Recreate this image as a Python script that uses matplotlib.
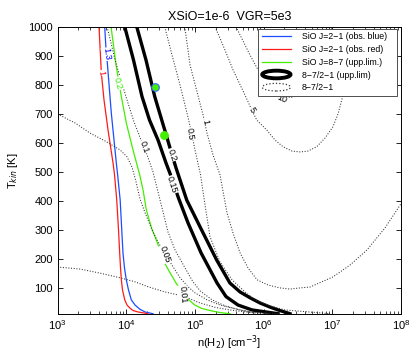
import numpy as np
import matplotlib
matplotlib.use("Agg")
from matplotlib import pyplot as plt
from matplotlib.patches import Ellipse
from matplotlib.legend_handler import HandlerPatch

plt.rcParams["font.family"] = ["Liberation Sans", "DejaVu Sans"]

# log10 n(H2) and Tkin of each curve
red_logn = [3.604, 3.638, 3.677, 3.735, 3.808, 3.830, 3.862, 3.888, 3.905, 3.917, 3.929,
            3.946, 3.978, 4.012, 4.051, 4.099, 4.172, 4.317]
red_T = [1000, 840, 747, 644, 530, 489, 402, 299, 219, 168, 127, 92, 58, 40, 30, 21, 16, 10]

blue_logn = [3.687, 3.702, 3.725, 3.783, 3.856, 3.875, 3.912, 3.935, 3.953, 3.975, 4.001,
             4.033, 4.074, 4.128, 4.196, 4.274, 4.390]
blue_T = [1000, 937, 875, 702, 530, 489, 402, 299, 219, 168, 127, 92, 58, 40, 26, 16, 10]

green_logn = [3.779, 3.856, 3.929, 4.001, 4.099, 4.196, 4.245, 4.293, 4.368, 4.448, 4.550,
              4.638, 4.725, 4.856, 4.997, 5.103, 5.220, 5.365, 5.511]
green_T = [1000, 862, 759, 668, 575, 489, 437, 368, 306, 258, 189, 151, 116, 69, 40, 28, 21, 14, 10]

# thick black: ratio 8-7/2-1 upper limit (0.15 and 0.2)
r015_logn = [3.978, 4.106, 4.230, 4.339, 4.463, 4.579, 4.645, 4.761, 4.900, 5.089, 5.322,
             5.453, 5.627, 5.831, 6.210]
r015_T = [1000, 885, 759, 678, 609, 530, 489, 409, 323, 220, 116, 69, 40, 23, 10]
r02_logn = [4.153, 4.288, 4.415, 4.560, 4.667, 4.725, 4.881, 5.074, 5.317, 5.509, 5.657,
            5.802, 5.948, 6.093, 6.210, 6.384]
r02_T = [1000, 885, 759, 644, 558, 513, 402, 310, 195, 116, 85, 65, 47, 33, 23, 10]

# dotted: ratio 8-7/2-1
r001_logn = [3.0, 3.328, 3.619, 3.910, 4.128, 4.317, 4.565, 4.827, 5.074, 5.293, 5.511, 5.802, 6.093]
r001_T = [171, 164, 150, 134, 120, 103, 85, 71, 47, 32, 23, 14, 10]
r005_logn = [3.0, 3.255, 3.473, 3.691, 3.910, 4.012, 4.084, 4.143, 4.201, 4.274, 4.376,
             4.463, 4.565, 4.681, 4.783, 4.900, 5.001, 5.176, 5.365, 5.584, 5.802, 6.239]
r005_T = [699, 668, 633, 606, 575, 551, 516, 465, 406, 358, 299, 257, 216, 172, 134, 103,
          82, 58, 40, 27, 16, 10]
r01_logn = [3.721, 3.779, 3.837, 3.910, 4.012, 4.114, 4.216, 4.303, 4.390, 4.463, 4.536,
            4.608, 4.710, 4.856, 4.972, 5.074, 5.249, 5.438, 5.657, 5.948]
r01_T = [1000, 944, 885, 827, 747, 671, 609, 558, 499, 430, 361, 292, 230, 168, 120, 89,
         58, 37, 23, 10]
r05_logn = [4.560, 4.667, 4.783, 4.898, 4.957, 5.001, 5.082, 5.147, 5.220, 5.365, 5.540,
            5.729, 5.875, 6.093, 6.312, 6.967]
r05_T = [1000, 902, 799, 689, 627, 575, 489, 385, 275, 189, 127, 85, 58, 37, 23, 10]
r1_logn = [4.852, 4.929, 5.031, 5.118, 5.176, 5.263, 5.365, 5.467, 5.555, 5.657, 5.773,
           5.904, 6.064, 6.239, 6.384, 6.530, 6.675, 7.010, 7.258, 7.505, 7.767, 8.007]
r1_T = [1000, 868, 775, 696, 633, 558, 489, 358, 288, 220, 168, 127, 109, 99, 95, 99, 102,
        137, 178, 230, 306, 392]
r5_logn = [5.293, 5.424, 5.555, 5.729, 5.827, 5.900, 6.045, 6.166, 6.282, 6.413, 6.530,
           6.646, 6.773, 6.894, 7.010, 7.083, 7.137, 7.185, 7.243, 7.301, 7.360]
r5_T = [1000, 927, 851, 764, 713, 678, 644, 609, 586, 571, 568, 571, 586, 616, 655, 699,
        747, 789, 851, 927, 1000]
r10_logn = [5.598, 5.700, 5.802, 5.919, 6.064, 6.160, 6.268, 6.428, 6.559, 6.675, 6.821,
            6.937, 6.996]
r10_T = [1000, 951, 902, 851, 799, 775, 755, 757, 775, 799, 851, 920, 1000]

# observed points
pts_logn = [4.424, 4.550]
pts_T = [793, 626]

# contour labels: text, log10 n, T, rotation, colour
labels = [
    ("1", 3.638, 840, -80, "red"),
    ("1.3", 3.711, 905, -82, "blue"),
    ("0.2", 3.881, 804, -75, "#33ee00"),
    ("0.1", 4.260, 585, -70, "black"),
    ("0.2", 4.667, 558, -72, "black"),
    ("0.15", 4.667, 455, -72, "black"),
    ("0.5", 4.930, 630, -82, "black"),
    ("1", 5.147, 671, -78, "black"),
    ("0.05", 4.565, 216, -70, "black"),
    ("0.01", 4.820, 76, -85, "black"),
    ("5", 5.827, 713, -60, "black"),
    ("10", 6.268, 752, -25, "black"),
]


class HandlerEllipse(HandlerPatch):
    def create_artists(self, legend, orig_handle, xdescent, ydescent,
                       width, height, fontsize, trans):
        c = (0.5 * width - xdescent, 0.5 * height - ydescent)
        p = Ellipse(xy=c, width=width * 0.95, height=height * 1.05)
        self.update_prop(p, orig_handle, legend)
        p.set_transform(trans)
        return [p]


fig = plt.figure(figsize=(4.15, 3.55), dpi=100)
ax = fig.add_axes([0.1386, 0.1163, 0.8277, 0.8085])

n = lambda a: np.power(10.0, a)

ax.plot(n(blue_logn), blue_T, color="#1a4dff", lw=0.9, label="SiO J=2\u22121 (obs. blue)")
ax.plot(n(red_logn), red_T, color="#ff1a1a", lw=0.9, label="SiO J=2\u22121 (obs. red)")
ax.plot(n(green_logn), green_T, color="#44ee00", lw=0.9, label="SiO J=8\u22127 (upp.lim.)")

for lx, ly in [(r015_logn, r015_T), (r02_logn, r02_T)]:
    ax.plot(n(lx), ly, color="black", lw=2.4, solid_joinstyle="round")

for lx, ly in [(r001_logn, r001_T), (r005_logn, r005_T), (r01_logn, r01_T),
               (r05_logn, r05_T), (r1_logn, r1_T), (r5_logn, r5_T), (r10_logn, r10_T)]:
    ax.plot(n(lx), ly, color="0.2", lw=0.75, ls=(0, (1, 1.6)))

ax.plot(n(pts_logn[:1]), pts_T[:1], "o", ms=5.5, mfc="#44ee00", mec="#3366ff", mew=0.8)
ax.plot(n(pts_logn[1:]), pts_T[1:], "o", ms=5.5, mfc="#44ee00", mec="#44ee00", mew=0.8)

for txt, lx, ly, rot, col in labels:
    ax.text(n(lx), ly, txt, rotation=rot, color=col, fontsize=6.5,
            ha="center", va="center", rotation_mode="anchor",
            bbox=dict(boxstyle="square,pad=0.05", fc="white", ec="none"), zorder=5)

ax.set_xscale("log")
ax.set_xlim(1e3, 1e8)
ax.set_ylim(10, 1000)
ax.set_yticks(np.arange(100, 1001, 100))
ax.tick_params(which="both", direction="in", top=True, right=True, labelsize=8)
ax.tick_params(which="major", length=3.5, width=0.6)
ax.tick_params(which="minor", length=2, width=0.5)
for s in ax.spines.values():
    s.set_linewidth(0.7)

ax.set_xlabel("n(H$_2$) [cm$^{-3}$]", fontsize=8, labelpad=1)
ax.set_ylabel("T$_{kin}$ [K]", fontsize=8, labelpad=6)
ax.set_title("XSiO=1e-6  VGR=5e3", fontsize=9, pad=5)

h_thick = Ellipse((0, 0), 1, 1, fc="white", ec="black", lw=2.8)
h_dot = Ellipse((0, 0), 1, 1, fc="white", ec="0.2", lw=0.9, ls=":")
handles, names = ax.get_legend_handles_labels()
handles += [h_thick, h_dot]
names += ["8\u22127/2\u22121 (upp.lim)", "8\u22127/2\u22121"]
leg = ax.legend(handles, names, loc="upper left", mode="expand",
                bbox_to_anchor=(0.5837, 0.762, 0.4047, 0.23),
                borderaxespad=0, fontsize=6.3, handlelength=3.4, handleheight=0.9,
                labelspacing=0.42, handletextpad=1.2, fancybox=False, framealpha=1,
                edgecolor="0.3", borderpad=0.4,
                handler_map={Ellipse: HandlerEllipse()})
leg.get_frame().set_linewidth(0.7)
leg.set_zorder(10)

fig.savefig("out.png", dpi=100)
